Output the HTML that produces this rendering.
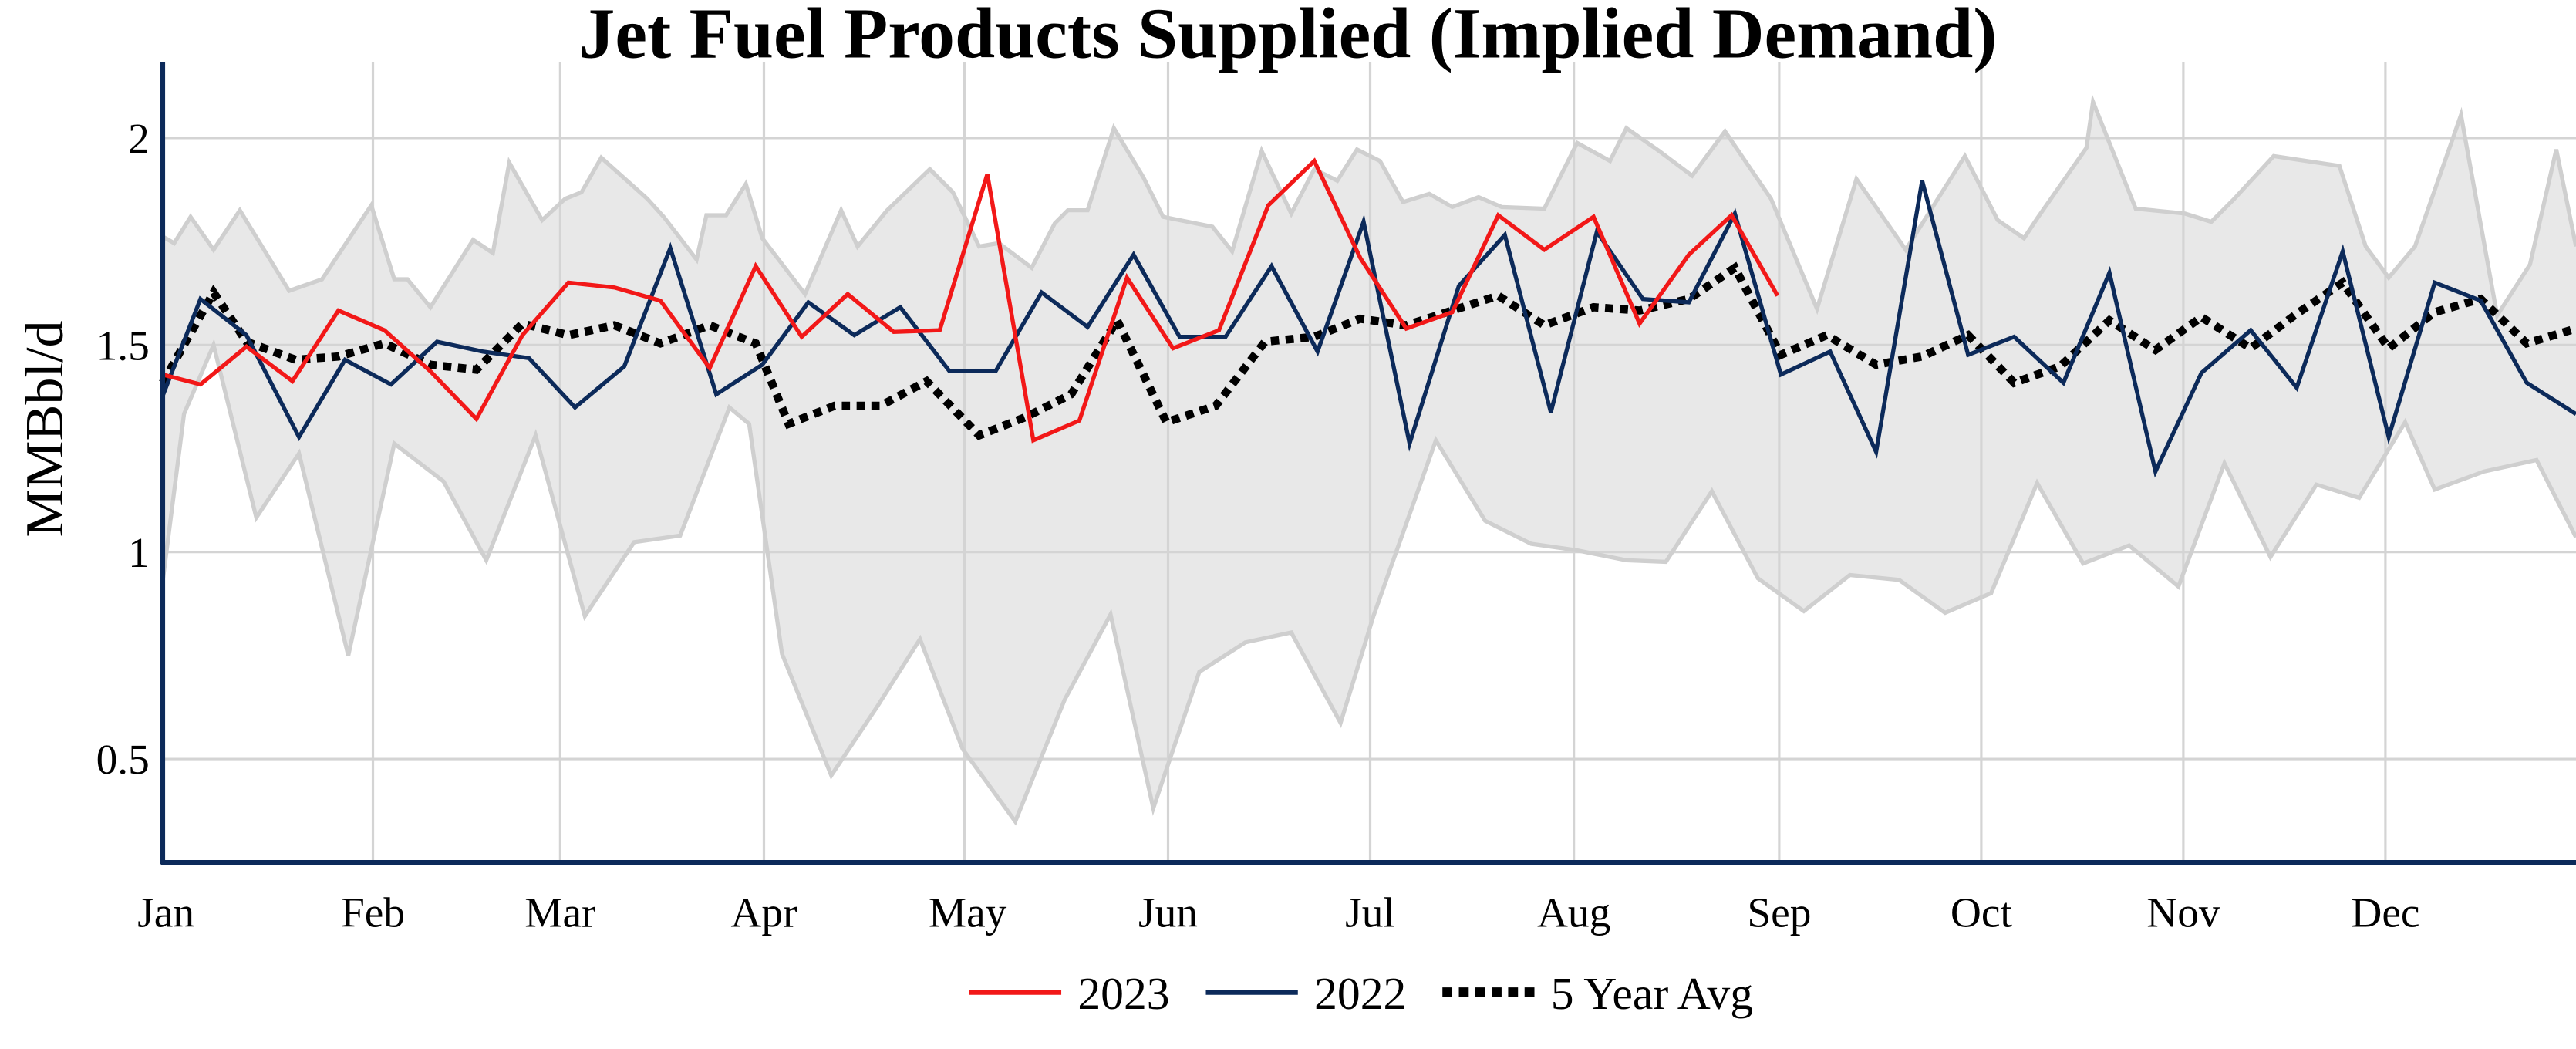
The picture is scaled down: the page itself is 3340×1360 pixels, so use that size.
<!DOCTYPE html>
<html><head><meta charset="utf-8"><style>html,body{margin:0;padding:0;background:#fff}svg{display:block}</style></head>
<body>
<svg width="3340" height="1360" viewBox="0 0 1568 638.5" preserveAspectRatio="none" xmlns="http://www.w3.org/2000/svg" font-family="Liberation Serif, serif">
<rect width="1568" height="638.5" fill="#fff"/>
<polygon fill="#e8e8e8" points="99,144 106,148 116,132 130,152 146,128 176,177 196,170 226,125 240,170 248,170 262,187 288,146 300,154 310,99 330,134 344,121 354,117 366,96 394,121 404,132 424,158 430,131 442,131 454,112 464,145 490,179 512,128 522,150 540,128 566,103 580,117 596,150 608,148 628,163 642,136 650,128 662,128 678,78 696,108 708,132 738,138 750,153 768,92 786,130 800,103 814,110 826,91 840,98 854,123 870,118 884,126 900,120 914,126 940,127 960,87 980,98 990,78 1010,92 1030,107 1050,80 1078,121 1106,188 1130,109 1160,152 1196,95 1216,134 1232,145 1240,133 1270,90 1274,62 1300,127 1330,130 1346,135 1360,121 1384,95 1424,101 1440,150 1454,169 1470,150 1498,70 1520,192 1540,161 1556,91 1568,150 1568,327 1544,280 1512,287 1482,298 1464,257 1436,303 1410,295 1382,339 1354,282 1326,357 1296,332 1268,343 1240,294 1212,361 1184,373 1156,353 1126,350 1098,372 1070,352 1042,299 1014,342 990,341 960,335 932,331 904,317 874,268 836,375 816,440 786,385 758,391 730,409 702,492 676,374 648,426 618,500 586,456 560,389 534,430 506,472 476,398 456,258 444,248 414,326 386,330 356,375 326,265 296,341 270,293 240,270 212,399 182,276 156,315 130,210 112,252 99,354"/>
<g stroke="#d4d4d4" stroke-width="1.5">
<line x1="99" y1="84" x2="1568" y2="84"/><line x1="99" y1="210" x2="1568" y2="210"/><line x1="99" y1="336" x2="1568" y2="336"/><line x1="99" y1="462" x2="1568" y2="462"/>
<line x1="227" y1="38" x2="227" y2="525"/><line x1="341" y1="38" x2="341" y2="525"/><line x1="465" y1="38" x2="465" y2="525"/><line x1="587" y1="38" x2="587" y2="525"/><line x1="711" y1="38" x2="711" y2="525"/><line x1="834" y1="38" x2="834" y2="525"/><line x1="958" y1="38" x2="958" y2="525"/><line x1="1083" y1="38" x2="1083" y2="525"/><line x1="1206" y1="38" x2="1206" y2="525"/><line x1="1329" y1="38" x2="1329" y2="525"/><line x1="1452" y1="38" x2="1452" y2="525"/>
</g>
<g fill="none" stroke="#cfcfcf" stroke-width="2.5">
<polyline points="99,144 106,148 116,132 130,152 146,128 176,177 196,170 226,125 240,170 248,170 262,187 288,146 300,154 310,99 330,134 344,121 354,117 366,96 394,121 404,132 424,158 430,131 442,131 454,112 464,145 490,179 512,128 522,150 540,128 566,103 580,117 596,150 608,148 628,163 642,136 650,128 662,128 678,78 696,108 708,132 738,138 750,153 768,92 786,130 800,103 814,110 826,91 840,98 854,123 870,118 884,126 900,120 914,126 940,127 960,87 980,98 990,78 1010,92 1030,107 1050,80 1078,121 1106,188 1130,109 1160,152 1196,95 1216,134 1232,145 1240,133 1270,90 1274,62 1300,127 1330,130 1346,135 1360,121 1384,95 1424,101 1440,150 1454,169 1470,150 1498,70 1520,192 1540,161 1556,91 1568,150"/>
<polyline points="99,354 112,252 130,210 156,315 182,276 212,399 240,270 270,293 296,341 326,265 356,375 386,330 414,326 444,248 456,258 476,398 506,472 534,430 560,389 586,456 618,500 648,426 676,374 702,492 730,409 758,391 786,385 816,440 836,375 874,268 904,317 932,331 960,335 990,341 1014,342 1042,299 1070,352 1098,372 1126,350 1156,353 1184,373 1212,361 1240,294 1268,343 1296,332 1326,357 1354,282 1382,339 1410,295 1436,303 1464,257 1482,298 1512,287 1544,280 1568,327"/>
</g>
<polyline fill="none" stroke="#000" stroke-width="5" stroke-dasharray="5,4" points="99,233 130,178 150,208 180,219 206,217 234,209 262,222 290,225 318,197 346,204 374,198 402,209 432,198 460,209 480,258 508,247 536,247 564,232 596,265 624,254 652,240 680,195 710,257 740,247 770,208 800,205 828,194 856,198 884,189 912,180 940,198 970,187 998,189 1028,182 1056,163 1084,216 1112,204 1142,222 1170,217 1198,204 1226,233 1254,223 1284,195 1312,213 1340,193 1370,212 1398,191 1426,172 1454,212 1482,190 1510,182 1538,209 1568,200"/>
<polyline fill="none" stroke="#0c2a5a" stroke-width="2.5" points="99,241 122,182 150,204 182,266 210,219 238,234 266,208 294,214 322,218 350,248 380,223 408,151 436,240 464,222 492,184 520,204 548,187 578,226 606,226 634,178 662,199 690,155 718,205 746,205 774,162 802,214 830,135 858,270 888,174 916,143 944,251 972,141 1000,182 1028,184 1056,130 1084,228 1114,214 1142,275 1170,110 1198,216 1226,205 1256,233 1284,166 1312,287 1340,227 1370,201 1398,236 1426,153 1454,266 1482,172 1510,183 1538,233 1568,252"/>
<polyline fill="none" stroke="#f21818" stroke-width="2.5" points="99,228 122,234 150,211 178,232 206,189 234,201 262,226 290,255 318,204 346,172 374,175 402,183 432,224 460,162 488,205 516,179 544,202 572,201 601,106 629,268 657,256 686,169 714,212 742,201 772,125 800,98 828,157 856,200 884,190 912,131 940,152 970,132 998,197 1028,155 1054,131 1082,180"/>
<line x1="99" y1="38" x2="99" y2="526" stroke="#0c2a5a" stroke-width="3"/>
<line x1="98" y1="525" x2="1568" y2="525" stroke="#0c2a5a" stroke-width="3"/>
<text x="784" y="35" text-anchor="middle" font-size="44" font-weight="bold">Jet Fuel Products Supplied (Implied Demand)</text>
<text transform="translate(38,261) rotate(-90)" text-anchor="middle" font-size="33">MMBbl/d</text>
<g font-size="26" text-anchor="end">
<text x="91" y="93">2</text><text x="91" y="219">1.5</text><text x="91" y="345">1</text><text x="91" y="471">0.5</text>
</g>
<g font-size="26" text-anchor="middle">
<text x="101" y="564">Jan</text><text x="227" y="564">Feb</text><text x="341" y="564">Mar</text><text x="465" y="564">Apr</text><text x="589" y="564">May</text><text x="711" y="564">Jun</text><text x="834" y="564">Jul</text><text x="958" y="564">Aug</text><text x="1083" y="564">Sep</text><text x="1206" y="564">Oct</text><text x="1329" y="564">Nov</text><text x="1452" y="564">Dec</text>
</g>
<g font-size="28">
<line x1="590" y1="604" x2="646" y2="604" stroke="#f21818" stroke-width="3"/><text x="656" y="614">2023</text>
<line x1="734" y1="604" x2="790" y2="604" stroke="#0c2a5a" stroke-width="3"/><text x="800" y="614">2022</text>
<line x1="878" y1="604" x2="934" y2="604" stroke="#000" stroke-width="6" stroke-dasharray="6,4"/><text x="944" y="614">5 Year Avg</text>
</g>
</svg>
</body></html>
